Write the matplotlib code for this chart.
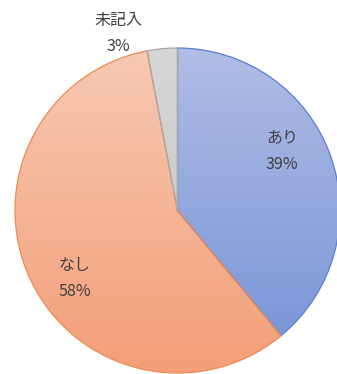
import numpy as np
import matplotlib
matplotlib.use("Agg")
import matplotlib.pyplot as plt
from matplotlib.colors import LinearSegmentedColormap

plt.rcParams['font.family'] = ['Noto Sans CJK JP', 'DejaVu Sans']

labels = ["あり", "なし", "未記入"]
values = [39, 58, 3]

# gradient fill (top colour, bottom colour) and outline for each slice
grad = [("#b0bde6", "#7592d6"), ("#f7c9b2", "#f39f78"), ("#d6d6d6", "#c4c4c4")]
edges = ["#5b7fcc", "#ee8a52", "#a8a8a8"]
# where each label sits, in pie units (radius 1)
lbl_xy = [(0.643, 0.366), (-0.631, -0.418), (-0.366, 1.089)]

fig = plt.figure(figsize=(3.37, 3.74), dpi=100)
ax = fig.add_axes([0, 0, 1, 1])

wedges, _ = ax.pie(values, startangle=90, counterclock=False, radius=1.0,
                   wedgeprops=dict(facecolor="none", linewidth=0.9))

ramp = np.linspace(0, 1, 256).reshape(-1, 1)
for w, (c0, c1), ec in zip(wedges, grad, edges):
    w.set_edgecolor(ec)
    w.set_zorder(3)
    cmap = LinearSegmentedColormap.from_list("g", [c0, c1])
    im = ax.imshow(ramp, cmap=cmap, extent=(-1, 1, -1, 1), origin="upper",
                   aspect="auto", zorder=2, interpolation="bilinear")
    im.set_clip_path(w)

for name, v, (x, y) in zip(labels, values, lbl_xy):
    ax.text(x, y, f"{name}\n{v}%", ha="center", va="center", fontsize=11.5,
            color="#404040", linespacing=1.7, zorder=5)

ax.set_xlim(-177.5 / 162.5, (337 - 177.5) / 162.5)
ax.set_ylim((210.5 - 374) / 162.5, 210.5 / 162.5)
ax.set_aspect("auto")
ax.axis("off")

fig.savefig("out.png", dpi=100, facecolor="white")
